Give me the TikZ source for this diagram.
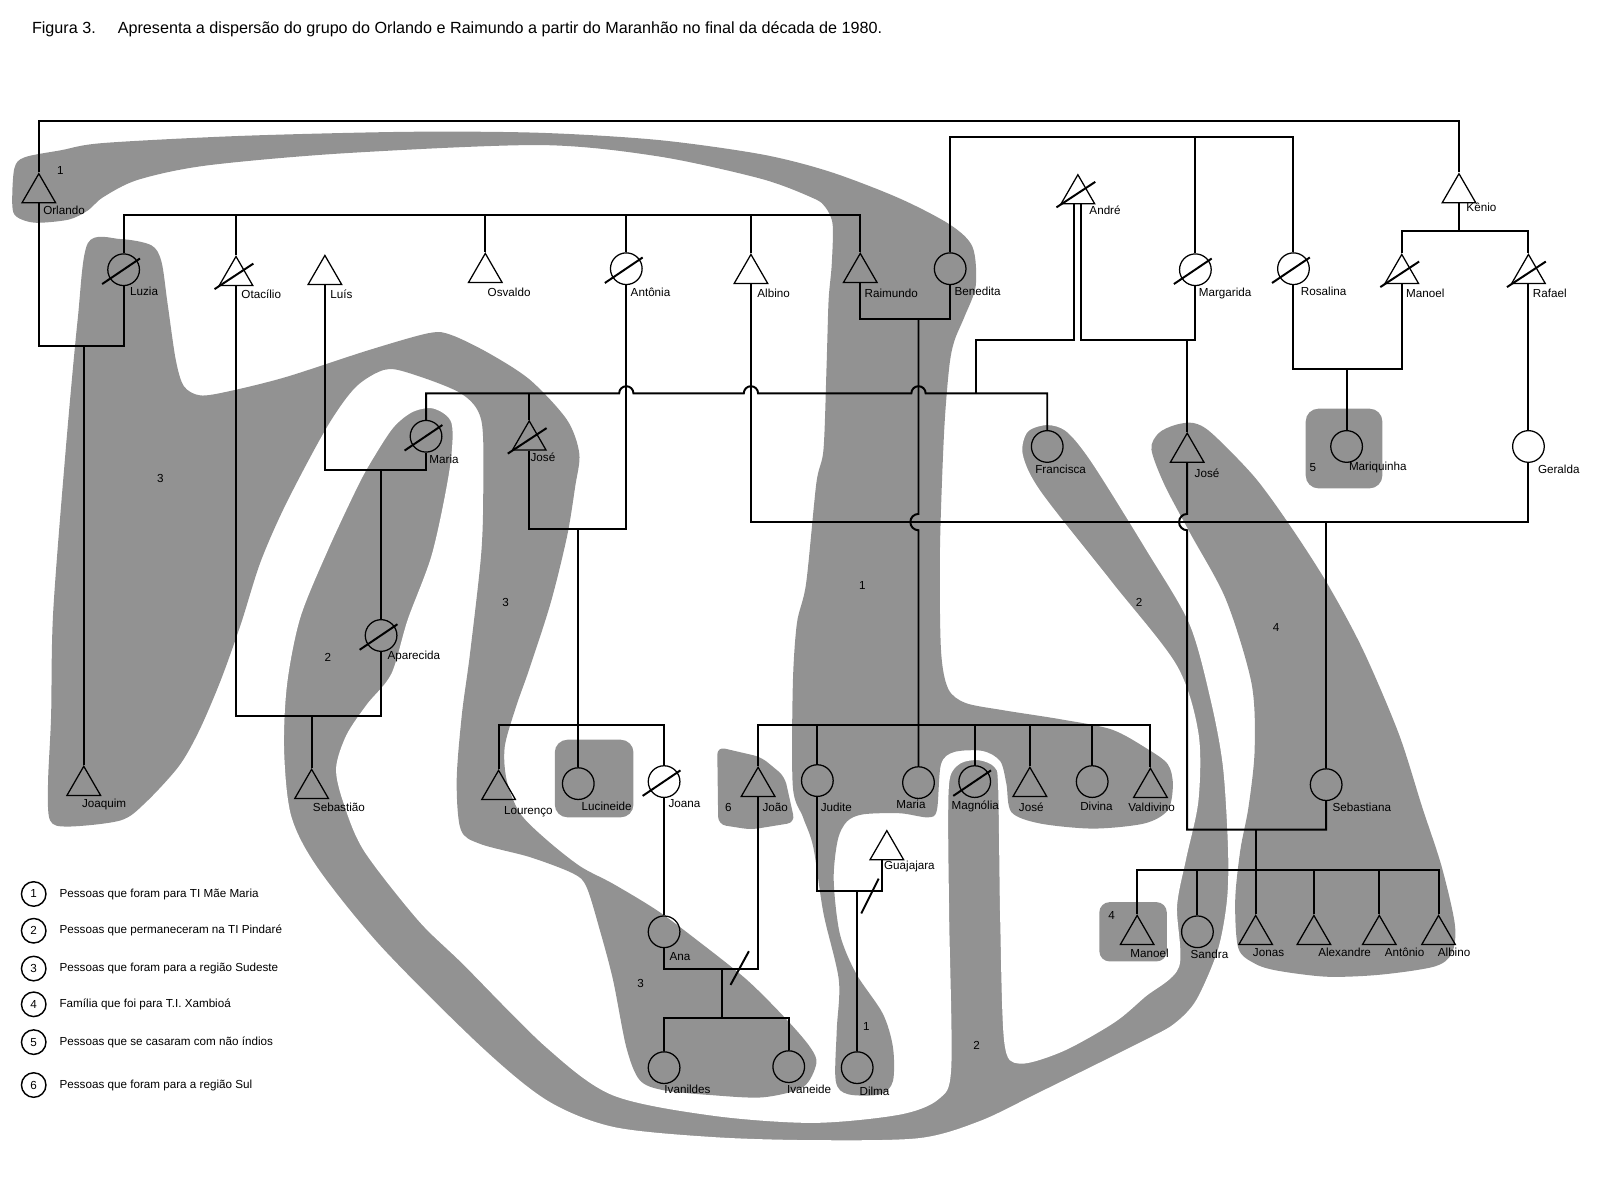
\documentclass[tikz,border=0pt]{standalone}
\usepackage{fontspec}
\setmainfont{Liberation Sans}
\usepackage{tikz}
\usetikzlibrary{shapes.geometric}
\definecolor{cblob}{HTML}{929292}
\tikzset{
  homem/.style={draw, regular polygon, regular polygon sides=3, minimum size=7.6mm, inner sep=0pt, line width=0.7pt},
  mulher/.style={draw, circle, minimum size=6.2mm, inner sep=0pt, line width=0.7pt},
  lbl/.style={font=\fontsize{6.5}{7}\selectfont, inner sep=0pt, anchor=west},
  num/.style={font=\fontsize{6.5}{7}\selectfont, inner sep=0pt},
  titulo/.style={font=\fontsize{9}{10}\selectfont, inner sep=0pt, anchor=west},
  legn/.style={draw, circle, minimum size=4.8mm, inner sep=0pt, line width=0.8pt, font=\fontsize{6.5}{7}\selectfont},
  laco/.style={line width=1.1pt},
  obito/.style={line width=1.1pt},
  blob/.style={fill=cblob},
}

\begin{document}
\begin{tikzpicture}[x=0.02cm, y=-0.02cm]
\useasboundingbox (0,0) rectangle (1568,1166);
\node[titulo] (fig) at (31,29) {Figura 3.};
\node[titulo] (cap) at (115,29) {Apresenta a dispersão do grupo do Orlando e Raimundo a partir do Maranhão no final da década de 1980.};

% manchas
\fill[blob] plot[smooth cycle, tension=0.5] coordinates {(12,200) (14,165) (24,154) (60,147) (101,140) (236,133) (400,129) (529,130) (644,137) (745,151) (812,168) (880,194) (930,220) (952,242) (955,280) (944,310) (934,334) (929,360) (924,424) (920,538) (921,636) (928,674) (945,688) (981,695) (1038,704) (1088,714) (1123,733) (1143,748) (1148,768) (1143,793) (1120,806) (1070,811) (1018,806) (990,795) (985,767) (979,745) (962,735) (934,736) (921,748) (917,793) (908,800) (881,796) (845,797) (829,804) (820,822) (816,861) (822,914) (838,953) (864,992) (874,1025) (874,1058) (862,1071) (830,1071) (818,1058) (819,1008) (821,959) (806,894) (796,829) (786,800) (776,770) (776,670) (780,610) (789,571) (799,473) (806,440) (809,359) (811,294) (814,260) (815,220) (808,203) (796,194) (745,175) (644,153) (529,142) (337,150) (202,162) (135,176) (101,193) (86,206) (67,215) (34,218) (16,212)};
\fill[blob] plot[smooth cycle, tension=0.5] coordinates {(86,238) (118,234) (148,240) (158,256) (164,297) (172,352) (180,378) (196,387) (224,383) (280,369) (360,343) (420,326) (442,328) (479,346) (519,372) (555,411) (567,444) (563,476) (555,525) (539,590) (518,655) (505,692) (494,731) (496,764) (509,796) (535,822) (568,848) (600,865) (643,891) (682,920) (731,959) (770,998) (793,1025) (799,1041) (786,1064) (747,1074) (698,1072) (649,1067) (626,1057) (613,1025) (600,959) (587,910) (574,868) (561,855) (519,839) (470,826) (451,812) (447,764) (452,700) (460,640) (471,542) (473,476) (471,411) (451,385) (400,365) (376,362) (348,379) (320,418) (280,493) (255,550) (236,610) (216,666) (195,715) (175,750) (142,786) (118,803) (67,809) (49,803) (47,767) (50,701) (52,600) (64,444) (76,313)};
\fill[blob, draw=white, line width=1.2pt] plot[smooth cycle, tension=0.5] coordinates {(425,399) (443,414) (441,460) (424,542) (400,607) (384,660) (360,690) (340,720) (330,752) (337,785) (357,832) (410,900) (454,943) (535,1024) (600,1071) (698,1091) (796,1098) (880,1090) (918,1075) (930,1045) (928,900) (927,800) (929,760) (940,746) (958,743) (974,750) (978,770) (980,900) (984,1020) (998,1040) (1040,1028) (1090,1000) (1120,975) (1153,946) (1151,887) (1160,840) (1172,783) (1172,718) (1151,652) (1088,571) (1018,482) (1000,445) (1005,422) (1025,415) (1045,422) (1070,453) (1123,538) (1165,610) (1186,685) (1198,750) (1203,830) (1202,881) (1193,930) (1172,979) (1151,1002) (1123,1018) (1018,1070) (960,1098) (900,1115) (796,1117) (698,1114) (600,1104) (535,1078) (470,1025) (372,927) (310,850) (284,799) (277,734) (280,669) (293,604) (320,538) (348,478) (362,452) (384,418) (404,402)};
\fill[blob] plot[smooth cycle, tension=0.5] coordinates {(1127,440) (1134,424) (1150,416) (1168,414) (1186,424) (1228,467) (1263,515) (1299,571) (1334,636) (1369,718) (1392,790) (1411,848) (1424,905) (1421,933) (1404,946) (1351,954) (1299,956) (1250,950) (1228,943) (1212,928) (1209,881) (1214,832) (1222,790) (1228,734) (1225,669) (1200,587) (1165,522) (1140,475)};
\fill[blob, rounded corners=2.5mm] (543,724) rectangle (620,800);
\fill[blob, rounded corners=2.5mm] (1278,400) rectangle (1353,478);
\fill[blob, rounded corners=2mm] (1076,883) rectangle (1142,941);
\fill[blob, rounded corners=1.5mm] (702,731) -- (745,741) -- (768,760) -- (778,805) -- (735,812) -- (703,807) -- cycle;

% pessoas
\node[homem] (orlando) at (38,189) {};
\node[homem] (kenio) at (1428,189) {};
\node[homem] (andre) at (1055,190) {};
\node[mulher] (luzia) at (121,264) {};
\node[homem] (otacilio) at (231,270) {};
\node[homem] (luis) at (318,269) {};
\node[homem] (osvaldo) at (475,267) {};
\node[mulher] (antonia) at (613,263) {};
\node[homem] (albinoA) at (735,268) {};
\node[homem] (raimundo) at (842,267) {};
\node[mulher] (benedita) at (930,263) {};
\node[mulher] (margarida) at (1170,264) {};
\node[mulher] (rosalina) at (1266,263) {};
\node[homem] (manoelA) at (1372,268) {};
\node[homem] (rafael) at (1496,268) {};
\node[mulher] (mariaA) at (417,427) {};
\node[homem] (joseL) at (518,431) {};
\node[mulher] (francisca) at (1025,437) {};
\node[homem] (joseR) at (1162,443) {};
\node[mulher] (mariquinha) at (1318,437) {};
\node[mulher] (geralda) at (1496,437) {};
\node[mulher] (aparecida) at (373,622) {};
\node[homem] (joaquim) at (82,769) {};
\node[homem] (sebastiao) at (305,772) {};
\node[homem] (lourenco) at (488,773) {};
\node[mulher] (lucineide) at (566,767) {};
\node[mulher] (joana) at (650,765) {};
\node[homem] (joao) at (742,770) {};
\node[mulher] (judite) at (800,764) {};
\node[mulher] (mariaB) at (899,766) {};
\node[mulher] (magnolia) at (954,765) {};
\node[homem] (joseB) at (1008,770) {};
\node[mulher] (divina) at (1069,765) {};
\node[homem] (valdivino) at (1126,771) {};
\node[mulher] (sebastiana) at (1298,768) {};
\node[homem] (guajajara) at (868,832) {};
\node[mulher] (ana) at (650,912) {};
\node[mulher] (ivanildes) at (650,1045) {};
\node[mulher] (ivaneide) at (772,1044) {};
\node[mulher] (dilma) at (839,1045) {};
\node[homem] (manoelB) at (1113,915) {};
\node[mulher] (sandra) at (1172,912) {};
\node[homem] (jonas) at (1229,915) {};
\node[homem] (alexandre) at (1286,915) {};
\node[homem] (antonio) at (1350,915) {};
\node[homem] (albinoB) at (1408,915) {};

\foreach \n in {luzia,antonia,margarida,rosalina,mariaA,aparecida,joana,magnolia}
  \draw[obito] ([shift={(-21,14)}]\n.center) -- ([shift={(16,-11)}]\n.center);
\foreach \n in {otacilio,andre,manoelA,rafael,joseL}
  \draw[obito] ([shift={(-21,13)}]\n.center) -- ([shift={(17,-12)}]\n.center);

% ligacoes
\coordinate (topo) at (1428,118);
\coordinate (irmaosA) at (842,210);
\coordinate (irmaosB) at (1266,134);
\coordinate (filhosK) at (1428,226);
\coordinate (casOL) at (82,339);
\coordinate (casRB) at (899,312);
\coordinate (filhosRB) at (899,710);
\coordinate (filhosA) at (955,385);
\coordinate (casAM) at (1162,333);
\coordinate (casRM) at (1318,361);
\coordinate (casLM) at (373,460);
\coordinate (casOA) at (305,701);
\coordinate (casJA) at (566,518);
\coordinate (filhosJA) at (566,710);
\coordinate (casAG) at (1298,511);
\coordinate (casJS) at (1229,812);
\coordinate (filhosJS) at (1229,852);
\coordinate (casAJ) at (707,948);
\coordinate (filhosAJ) at (707,996);
\coordinate (casJG) at (839,872);

\draw[laco] (orlando.north) |- (topo) -- (kenio.north);
\draw[laco] (luzia.north) |- (irmaosA) -- (raimundo.north);
\foreach \n in {otacilio,osvaldo,antonia,albinoA}
  \draw[laco] (\n.north) -- (\n.north |- irmaosA);
\draw[laco] (benedita.north) |- (irmaosB) -- (rosalina.north);
\draw[laco] (margarida.north) -- (margarida.north |- irmaosB);
\draw[laco] (kenio.south) -- (filhosK);
\draw[laco] (manoelA.north) |- (filhosK) -| (rafael.north);
\draw[laco] (orlando.south) |- (casOL) -| (luzia.south);
\draw[laco] (casOL) -- (joaquim.north);
\draw[laco] (raimundo.south) |- (casRB) -| (benedita.south);
\draw[laco] (casRB) -- (899,503) arc[start angle=90, end angle=270, radius=0.16cm] -- (mariaB.north);
\draw[laco] (joao.north) |- (filhosRB) -| (valdivino.north);
\foreach \n in {judite,magnolia,joseB,divina}
  \draw[laco] (\n.north) -- (\n.north |- filhosRB);
\draw[laco] ([xshift=-0.07cm]andre.south) |- (filhosA |- casAM) -- (filhosA);
\draw[laco] ([xshift=0.07cm]andre.south) |- (casAM) -| (margarida.south);
\draw[laco] (casAM) -- (joseR.north);
\draw[laco] (mariaA.north) |- (606,385) arc[start angle=180, end angle=0, radius=0.14cm]
  -- (728,385) arc[start angle=180, end angle=0, radius=0.14cm]
  -- (892,385) arc[start angle=180, end angle=0, radius=0.14cm]
  -- (filhosA) -| (francisca.north);
\draw[laco] (joseL.north) -- (joseL.north |- filhosA);
\draw[laco] (rosalina.south) |- (casRM) -| (manoelA.south);
\draw[laco] (casRM) -- (mariquinha.north);
\draw[laco] (rafael.south) -- (geralda.north);
\draw[laco] (luis.south) |- (casLM) -| (mariaA.south);
\draw[laco] (casLM) -- (aparecida.north);
\draw[laco] (otacilio.south) |- (casOA) -| (aparecida.south);
\draw[laco] (casOA) -- (sebastiao.north);
\draw[laco] (joseL.south) |- (casJA) -| (antonia.south);
\draw[laco] (casJA) -- (lucineide.north);
\draw[laco] (lourenco.north) |- (filhosJA) -| (joana.north);
\draw[laco] (albinoA.south) |- (casAG) -| (geralda.south);
\draw[laco] (casAG) -- (sebastiana.north);
\draw[laco] (joseR.south) -- (1162,503) arc[start angle=90, end angle=270, radius=0.16cm] |- (casJS) -| (sebastiana.south);
\draw[laco] (casJS) -- (jonas.north);
\draw[laco] (manoelB.north) |- (filhosJS) -| (albinoB.north);
\foreach \n in {sandra,alexandre,antonio}
  \draw[laco] (\n.north) -- (\n.north |- filhosJS);
\draw[laco] (joana.south) -- (ana.north);
\draw[laco] (ana.south) |- (casAJ) -| (joao.south);
\draw[laco] (casAJ) -- (filhosAJ);
\draw[laco] (ivanildes.north) |- (filhosAJ) -| (ivaneide.north);
\draw[obito] (715,964) -- (733,931);
\draw[laco] (judite.south) |- (casJG) -| ([xshift=-0.09cm]guajajara.south);
\draw[laco] (casJG) -- (dilma.north);
\draw[obito] (843,894) -- (860,860);

% nomes
\node[lbl] (lorlando) at (42,206) {Orlando};
\node[lbl] (lluzia) at (127,285) {Luzia};
\node[lbl] (lotacilio) at (236,288) {Otacílio};
\node[lbl] (lluis) at (323,288) {Luís};
\node[lbl] (losvaldo) at (477,286) {Osvaldo};
\node[lbl] (lantonia) at (617,286) {Antônia};
\node[lbl] (lalbinoA) at (741,287) {Albino};
\node[lbl] (lraimundo) at (846,287) {Raimundo};
\node[lbl] (lbenedita) at (934,285) {Benedita};
\node[lbl] (landre) at (1066,206) {André};
\node[lbl] (lkenio) at (1435,203) {Kênio};
\node[lbl] (lmargarida) at (1173,287) {Margarida};
\node[lbl] (lrosalina) at (1273,285) {Rosalina};
\node[lbl] (lmanoelA) at (1376,287) {Manoel};
\node[lbl] (lrafael) at (1500,287) {Rafael};
\node[lbl] (lmariaA) at (420,450) {Maria};
\node[lbl] (ljoseL) at (519,448) {José};
\node[lbl] (lfrancisca) at (1013,459) {Francisca};
\node[lbl] (ljoseR) at (1169,463) {José};
\node[lbl] (lmariquinha) at (1320,458) {Mariquinha};
\node[lbl] (lgeralda) at (1505,459) {Geralda};
\node[lbl] (laparecida) at (379,643) {Aparecida};
\node[lbl] (ljoaquim) at (80,787) {Joaquim};
\node[lbl] (lsebastiao) at (306,790) {Sebastião};
\node[lbl] (llourenco) at (493,794) {Lourenço};
\node[lbl] (llucineide) at (569,789) {Lucineide};
\node[lbl] (ljoana) at (654,786) {Joana};
\node[lbl] (ljoao) at (746,790) {João};
\node[lbl] (ljudite) at (803,790) {Judite};
\node[lbl] (lmariaB) at (877,787) {Maria};
\node[lbl] (lmagnolia) at (931,789) {Magnólia};
\node[lbl] (ljoseB) at (997,790) {José};
\node[lbl] (ldivina) at (1057,789) {Divina};
\node[lbl] (lvaldivino) at (1104,790) {Valdivino};
\node[lbl] (lsebastiana) at (1304,790) {Sebastiana};
\node[lbl] (lguajajara) at (865,848) {Guajajara};
\node[lbl] (lana) at (655,936) {Ana};
\node[lbl] (livanildes) at (650,1066) {Ivanildes};
\node[lbl] (livaneide) at (770,1066) {Ivaneide};
\node[lbl] (ldilma) at (841,1068) {Dilma};
\node[lbl] (lmanoelB) at (1106,933) {Manoel};
\node[lbl] (lsandra) at (1165,934) {Sandra};
\node[lbl] (ljonas) at (1226,932) {Jonas};
\node[lbl] (lalexandre) at (1290,932) {Alexandre};
\node[lbl] (lantonio) at (1355,932) {Antônio};
\node[lbl] (lalbinoB) at (1407,932) {Albino};

% numeros das manchas
\node[num] (r1a) at (59,167) {1};
\node[num] (r3a) at (157,468) {3};
\node[num] (r2a) at (321,643) {2};
\node[num] (r3b) at (495,590) {3};
\node[num] (r1b) at (844,573) {1};
\node[num] (r2b) at (1115,590) {2};
\node[num] (r4a) at (1249,614) {4};
\node[num] (r5) at (1285,458) {5};
\node[num] (r6) at (713,790) {6};
\node[num] (r3c) at (627,963) {3};
\node[num] (r1c) at (848,1005) {1};
\node[num] (r2c) at (956,1023) {2};
\node[num] (r4b) at (1088,896) {4};

% legenda
\foreach \i/\y/\t in {1/875/Pessoas que foram para TI Mãe Maria,
                      2/911/Pessoas que permaneceram na TI Pindaré,
                      3/948/Pessoas que foram para a região Sudeste,
                      4/983/Família que foi para T.I. Xambioá,
                      5/1020/Pessoas que se casaram com não índios,
                      6/1062/Pessoas que foram para a região Sul} {
  \node[legn] (leg\i) at (33,\y) {\i};
  \node[lbl] (legt\i) at (58,\y) {\t};
}
\end{tikzpicture}
\end{document}
